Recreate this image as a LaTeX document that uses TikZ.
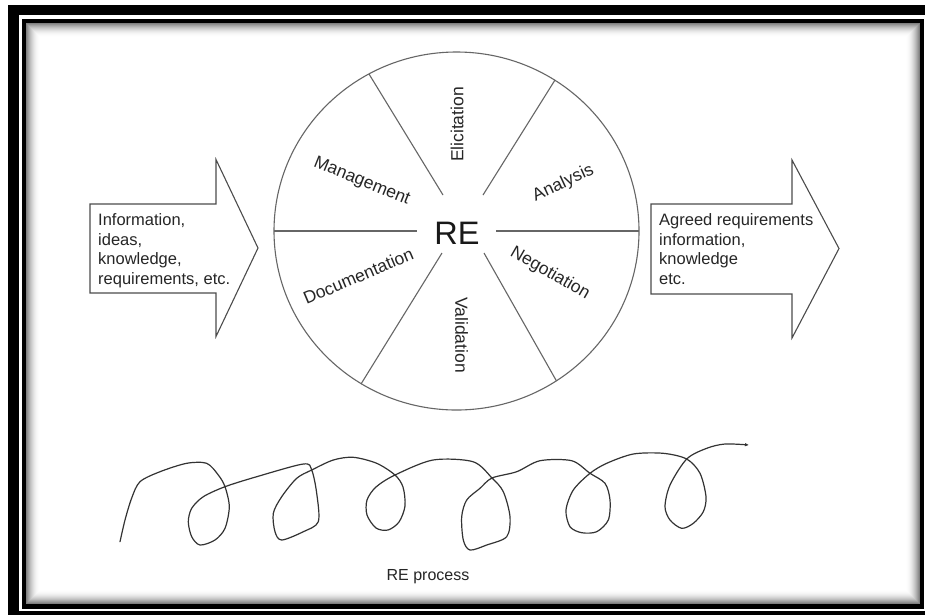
\documentclass[tikz,border=0pt]{standalone}
\usepackage{fontspec}
\setmainfont{Liberation Sans}
\usetikzlibrary{arrows.meta}
\begin{document}
\begin{tikzpicture}[x=1pt,y=-1pt,
  outline/.style={draw=black!70, line width=1.1pt, line join=miter},
  wheel/.style={draw=black!60, line width=1.1pt},
  arrowtext/.style={font=\fontsize{16.5}{19.6}\selectfont, align=left, inner sep=0pt, anchor=north west, text=black!85},
  sector/.style={font=\fontsize{17.5}{20}\selectfont, inner sep=0pt, text=black!85},
  spiral/.style={draw=black!80, line width=1.2pt, line join=round, line cap=round}]
\useasboundingbox (0,0) rectangle (925,614);
\clip (0,0) rectangle (925,614);
\fill[white] (0,0) rectangle (925,614);
% outer band
\fill[black] (8,5) rectangle (940,630);
\fill[white] (19,15) rectangle (935,611);
% inner frame line
\draw[black, line width=4.5pt] (24,21) rectangle (922,606.5);
% inner shadow
\foreach \i in {0,...,13}{
  \pgfmathsetmacro\g{50*(1-\i/14)^2}
  \draw[black!\g, line width=1.05pt] (26.8+\i,23.8+\i) rectangle (919.2-\i,603.7-\i);
}
% arrows
\draw[outline] (90,204) -- (216,204) -- (216,159.5) -- (258,248) -- (216,336.5) -- (216,293) -- (90,293) -- cycle;
\draw[outline] (651,204) -- (792,204) -- (792,160) -- (839,248.5) -- (792,338) -- (792,294) -- (651,294) -- cycle;
\node[arrowtext] (intext) at (98,213.5) {Information,\\ideas,\\knowledge,\\requirements, etc.};
\node[arrowtext] (outtext) at (659,213.5) {Agreed requirements\\information,\\knowledge\\etc.};
% wheel
\draw[wheel] (456.5,231) ellipse [x radius=182.5pt, y radius=179pt];
\draw[wheel] (274,231) -- (417,231);
\draw[wheel] (496,231) -- (639,231);
\draw[wheel] (369,74) -- (443,195);
\draw[wheel] (555,80) -- (483,195);
\draw[wheel] (442,253) -- (361,384);
\draw[wheel] (484,253) -- (556.5,381);
\node[font=\fontsize{32.5}{36}\selectfont, inner sep=0pt, text=black!90] (re) at (457,233) {RE};
\node[sector, rotate=90] (elic) at (457,124.5) {Elicitation};
\node[sector, rotate=-90] (vali) at (461.7,335) {Validation};
\node[sector, rotate=-22] (mgmt) at (361.7,181.7) {Management};
\node[sector, rotate=25] (anal) at (563.3,183.3) {Analysis};
\node[sector, rotate=23] (docu) at (358.3,276) {Documentation};
\node[sector, rotate=-30] (nego) at (550,273.3) {Negotiation};
% spiral
\draw[spiral, -{Latex[length=4pt,width=3.5pt]}] plot[smooth, tension=0.5] coordinates {
(120,541.7) (125,520) (131.7,498) (140,481.7) (160,471.7) (186.7,463.3) (206.7,463.3) (218.3,475) (225,486.7) (229.3,506.7) (225,528.3) (215,540) (200,545) (191.7,536.7) (188.3,521.7) (191.7,508.3) (203.3,496.7) (225,486.7) (256.7,476.7) (303.3,464) (311.7,470) (316.7,493.3) (318.3,521.7) (303.3,531.7) (281.7,540) (275,531.7) (273.3,513.3) (281.7,496.7) (296.7,478.3) (311.7,470) (333.3,460) (353.3,457.3) (376.7,463.3) (395,475) (403,487) (405,506) (399,522) (388,530) (376,528) (367,515) (367,500) (376,487) (395,475) (433,460) (473,461.7) (492,478) (503.3,491.7) (510,516.7) (506.7,536.7) (486.7,545) (470,550) (463.3,540) (461.7,516.7) (466.7,500) (480,488.3) (492,478) (516.7,471.7) (540,460.7) (571.7,460.7) (590,473.3) (605,483.3) (610,500) (608.3,520) (596.7,531.7) (581.7,532.7) (570,526.7) (566,510) (573.3,490) (590,473.3) (606.7,463.3) (633.3,454) (663.3,453.3) (686.7,459) (700,473.3) (706,496.7) (703.3,511.7) (693.3,523.3) (681.7,528.3) (670,520) (665,506.7) (670,485) (686.7,459) (706.7,448.3) (725,444) (749,445)};
\node[font=\fontsize{16}{19}\selectfont, inner sep=0pt, text=black!85] (proc) at (428,577) {RE process};
\end{tikzpicture}
\end{document}
